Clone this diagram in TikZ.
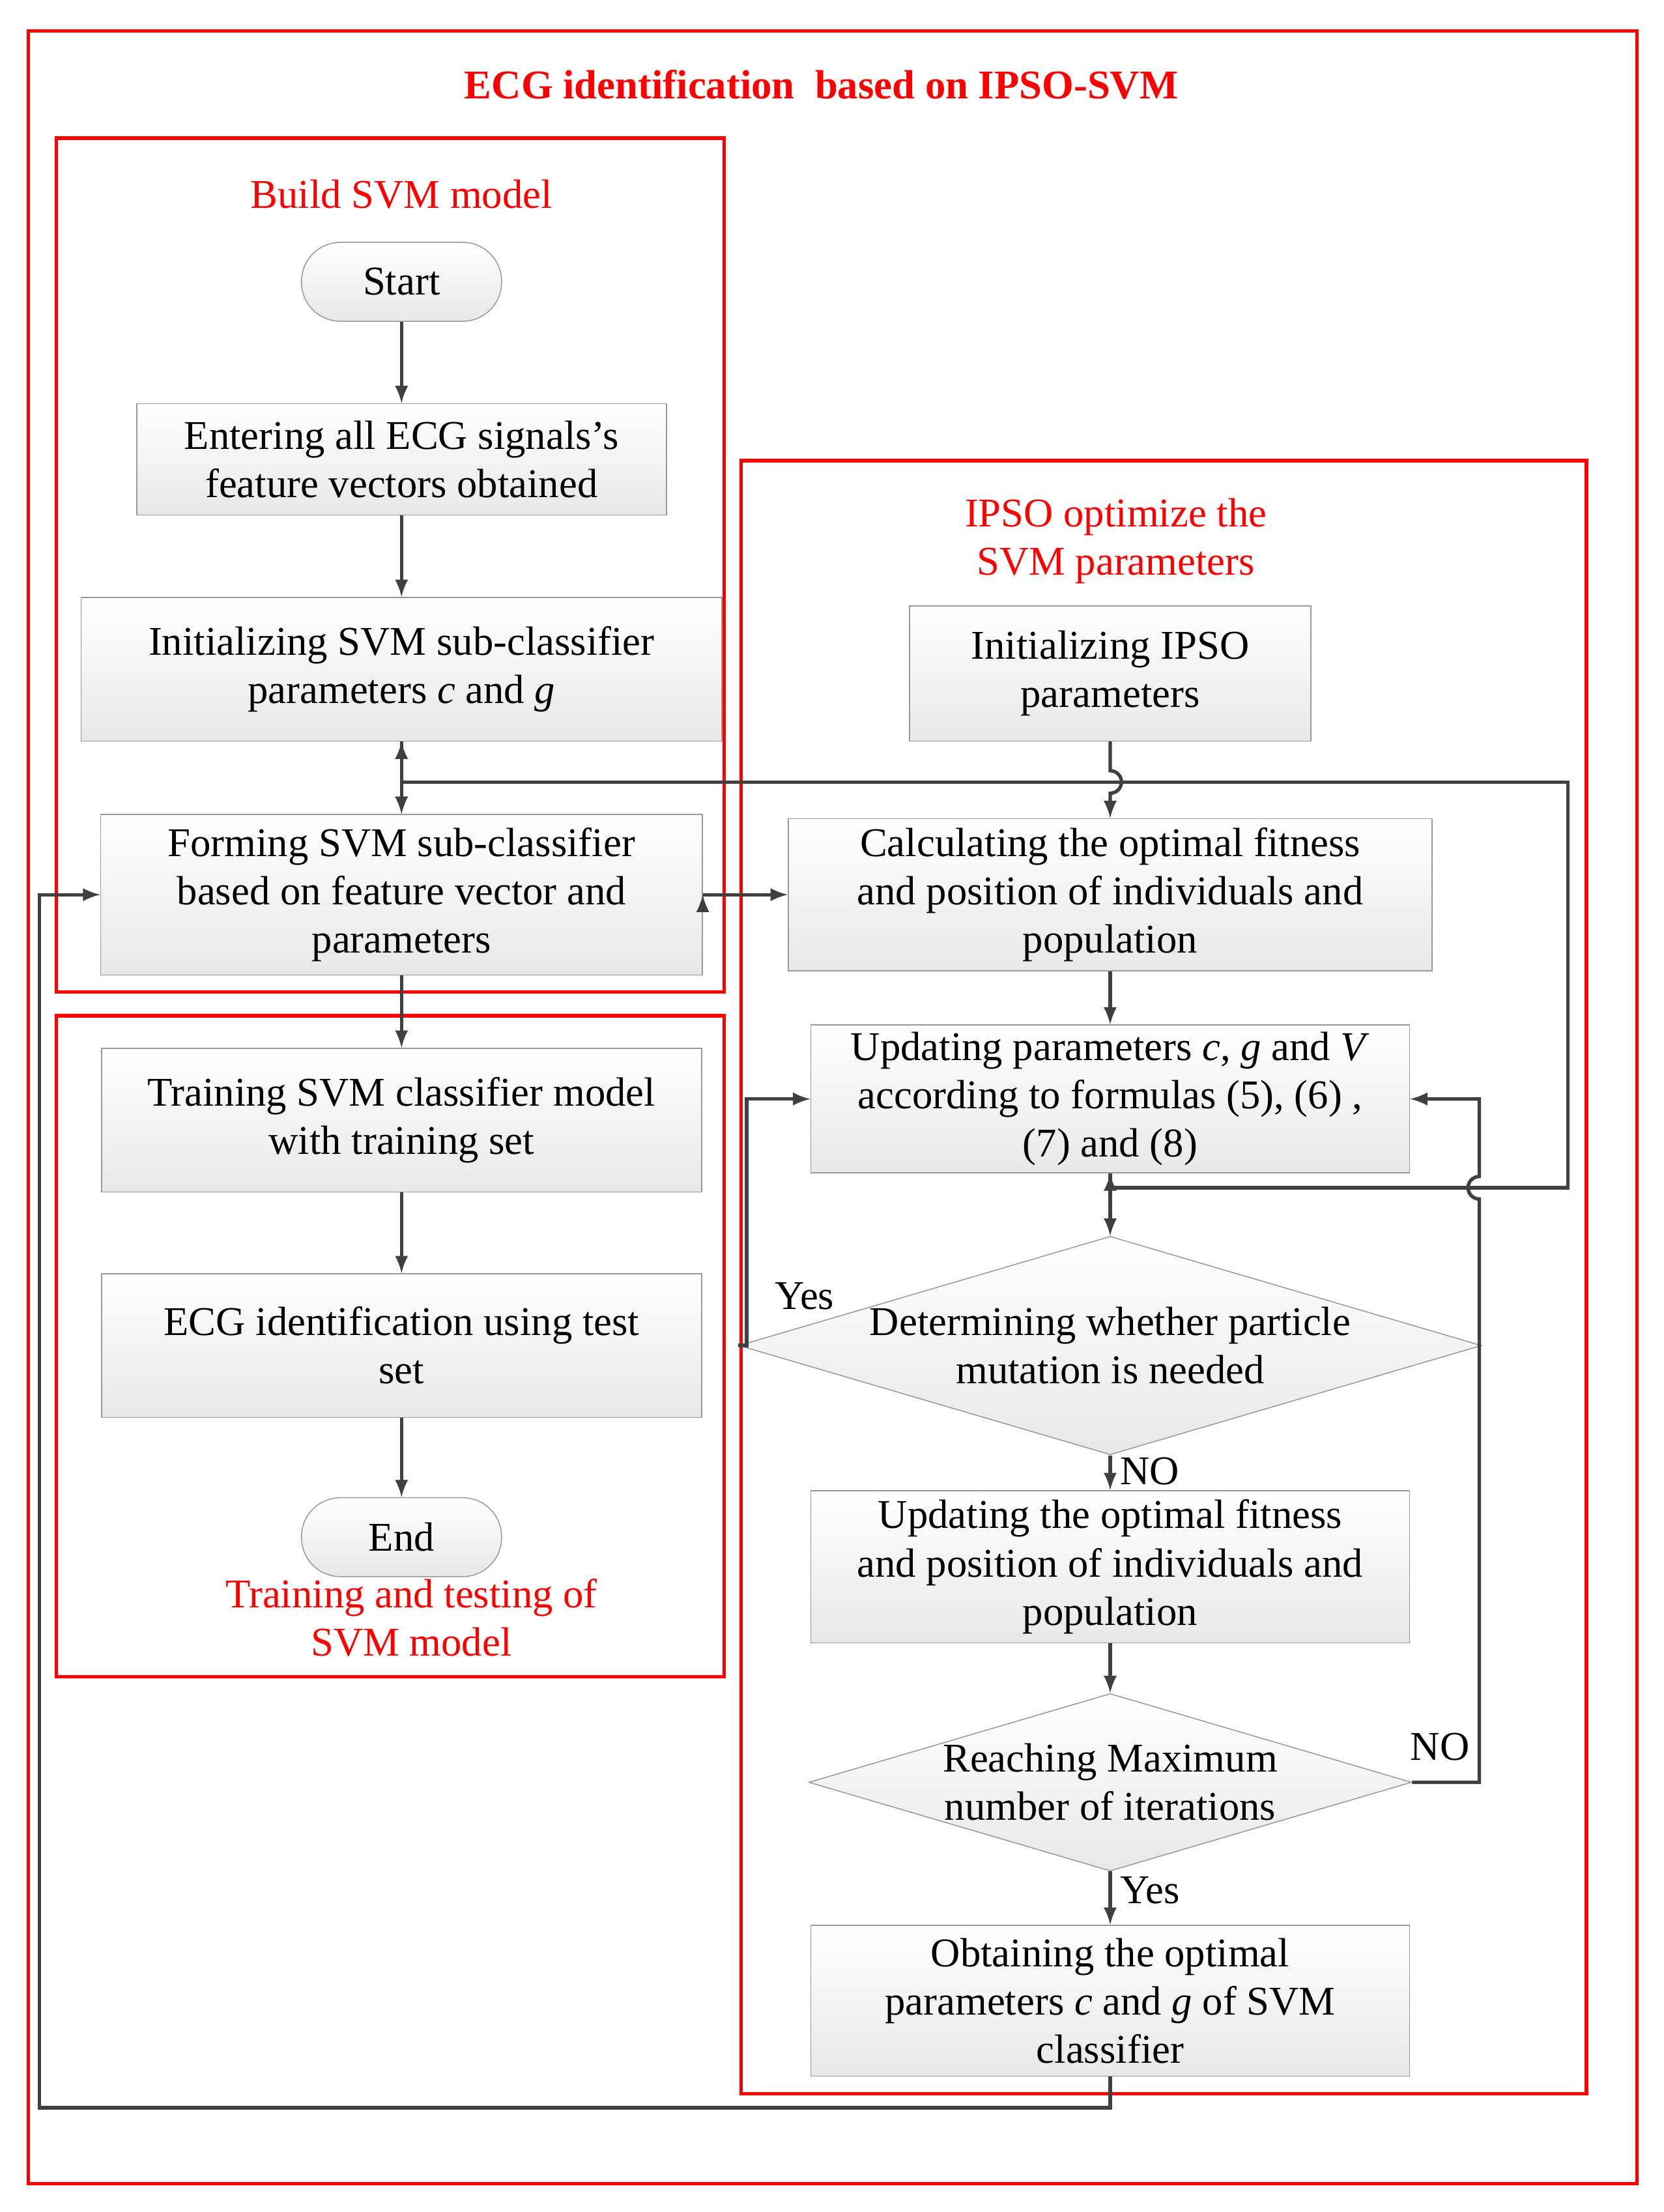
\documentclass[tikz,border=0pt]{standalone}
\usepackage{fontspec}
\setmainfont{Liberation Serif}
\usetikzlibrary{shapes.geometric}
\tikzset{
  box/.style={draw=gray!80, top color=white, bottom color=gray!18, align=center, inner sep=2pt},
  term/.style={box, rounded corners=0.55cm},
  dec/.style={diamond, draw=gray!80, top color=white, bottom color=gray!18, align=center, aspect=3.4, inner sep=0pt},
  frame/.style={draw=red, line width=1.4pt},
  lbl/.style={text=red, align=center},
  conn/.style={draw=black!75, line width=1.4pt},
  arr/.style={conn, -latex}
}
\begin{document}
\begin{tikzpicture}[x=0.02cm, y=-0.02cm, font=\fontsize{16.5}{19.5}\selectfont]
  \useasboundingbox (0,0) rectangle (1181,1570);
  % frames
  \draw[frame] (20,22) rectangle (1162,1550);
  \draw[frame] (40,98) rectangle (514,704);
  \draw[frame] (40,721) rectangle (514,1190);
  \draw[frame] (526,327) rectangle (1126,1486);
  \node[lbl, font=\fontsize{16.5}{19.5}\selectfont\bfseries] (title) at (583,60) {ECG identification\ \ based on IPSO-SVM};
  \node[lbl] (lbuild) at (285,138) {Build SVM model};
  \node[lbl] (ltrain) at (292,1148) {Training and testing of\\SVM model};
  \node[lbl] (lipso) at (792,384) {IPSO optimize the\\SVM parameters};
  % left column
  \begin{scope}
    \node[term, minimum width=2.84cm, minimum height=1.12cm] (start) at (285,200) {Start};
    \node[box, minimum width=7.52cm, minimum height=1.58cm] (b1) at (285,326) {Entering all ECG signals's\\feature vectors obtained};
    \node[box, minimum width=9.1cm, minimum height=2.04cm] (b2) at (285,475) {Initializing SVM sub-classifier\\parameters \textit{c} and \textit{g}};
    \node[box, minimum width=8.54cm, minimum height=2.28cm] (b3) at (285,635) {Forming SVM sub-classifier\\based on feature vector and\\parameters};
    \node[box, minimum width=8.52cm, minimum height=2.04cm] (b4) at (285,795) {Training SVM classifier model\\with training set};
    \node[box, minimum width=8.52cm, minimum height=2.04cm] (b5) at (285,955) {ECG identification using test\\set};
    \node[term, minimum width=2.84cm, minimum height=1.12cm] (end) at (285,1091) {End};
  \end{scope}
  % right column
  \begin{scope}
    \node[box, minimum width=5.7cm, minimum height=1.92cm] (r1) at (788,478) {Initializing IPSO\\parameters};
    \node[box, minimum width=9.14cm, minimum height=2.16cm] (r2) at (788,635) {Calculating the optimal fitness\\and position of individuals and\\population};
    \node[box, minimum width=8.5cm, minimum height=2.1cm] (r3) at (788,780) {Updating parameters \textit{c}, \textit{g} and \textit{V}\\according to formulas (5), (6) ,\\(7) and (8)};
    \node[dec, minimum width=9.32cm, minimum height=2.72cm] (d1) at (788,955) {Determining whether particle\\mutation is needed};
    \node[box, minimum width=8.5cm, minimum height=2.16cm] (r4) at (788,1112) {Updating the optimal fitness\\and position of individuals and\\population};
    \node[dec, minimum width=8.56cm, minimum height=2.52cm] (d2) at (788,1265) {Reaching Maximum\\number of iterations};
    \node[box, minimum width=8.5cm, minimum height=2.14cm] (r5) at (788,1420) {Obtaining the optimal\\parameters \textit{c} and \textit{g} of SVM\\classifier};
    \coordinate (top) at (285,555);
    \coordinate (fb) at (788,843);
  \end{scope}
  % connectors
  \begin{scope}[every path/.style={arr}]
    \path (start) edge (b1);
    \path (b1) edge (b2);
    \path (b2.south) edge (b3.north);
    \path (b3) edge (b4);
    \path (b4) edge (b5);
    \path (b5) edge (end);
    \path (b3.east) edge (r2.west);
    \path (r2) edge (r3);
    \path (r3.south) edge (d1.north);
    \path (d1) edge node[right, pos=0.45]{NO} (r4);
    \path (r4) edge (d2);
    \path (d2) edge node[right, pos=0.35]{Yes} (r5);
  \end{scope}
  \draw[arr] (r1.south) -- (788,547) arc[start angle=90, end angle=-90, radius=0.16cm] -- (r2.north);
  \draw[arr] (fb) -- (1113,843) -- (1113,555) -- (top) -- (b3.north);
  \draw[arr] (d1.west) -- (530,955) -- (530,780) -- (r3.west);
  \node (yes1) at (571,920) {Yes};
  \draw[arr] (d2.east) -- (1050,1265) -- (1050,851) arc[start angle=-90, end angle=-270, radius=0.16cm] -- (1050,780) -- (r3.east);
  \node (no2) at (1022,1240) {NO};
  \draw[arr] (r5.south) -- (788,1496) -- (28,1496) -- (28,635) -- (b3.west);
\end{tikzpicture}
\end{document}
